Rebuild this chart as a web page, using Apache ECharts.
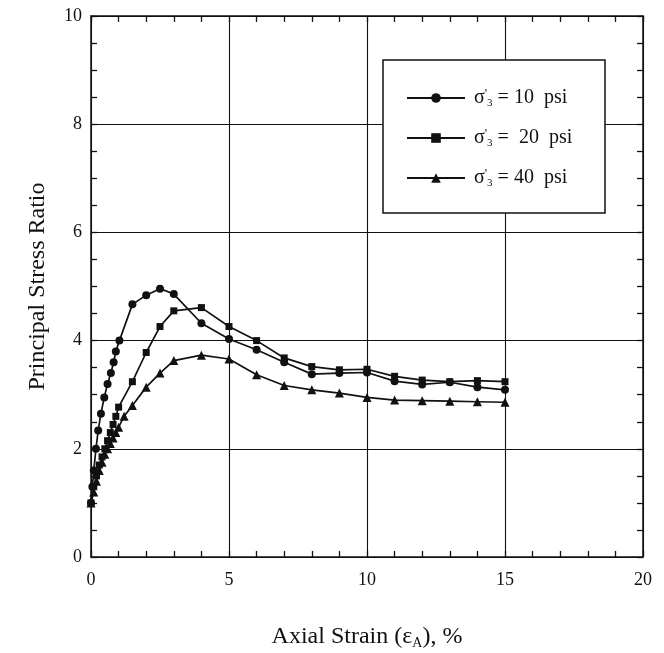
<!DOCTYPE html>
<html>
<head>
<meta charset="utf-8">
<script src="https://cdn.jsdelivr.net/npm/echarts@6/dist/echarts.min.js"></script>
<style>
  html, body { margin: 0; padding: 0; background: #fff; }
  #chart { width: 664px; height: 653px; }
</style>
</head>
<body>
<div id="chart"></div>
<script>
// Principal stress ratio vs axial strain for three confining pressures
const seriesNames = ["σ'3 = 10 psi", "σ'3 = 20 psi", "σ'3 = 40 psi"];
const legendText = [' = 10  psi', ' =  20  psi', ' = 40  psi'];

// [axial strain %, principal stress ratio]
const psi10 = [
  [0, 1.0], [0.05, 1.3], [0.1, 1.6], [0.18, 2.0], [0.26, 2.34], [0.36, 2.65],
  [0.48, 2.95], [0.6, 3.2], [0.72, 3.4], [0.82, 3.6], [0.9, 3.8], [1.03, 4.0],
  [1.5, 4.67], [2.0, 4.84], [2.5, 4.96], [3.0, 4.86], [4.0, 4.32], [5.0, 4.03],
  [6.0, 3.83], [7.0, 3.6], [8.0, 3.38], [9.0, 3.4], [10.0, 3.41], [11.0, 3.25],
  [12.0, 3.19], [13.0, 3.23], [14.0, 3.14], [15.0, 3.09]
];
const psi20 = [
  [0, 1.0], [0.1, 1.3], [0.2, 1.5], [0.3, 1.7], [0.4, 1.85], [0.5, 2.0],
  [0.6, 2.15], [0.7, 2.3], [0.8, 2.45], [0.9, 2.6], [1.0, 2.77], [1.5, 3.24],
  [2.0, 3.78], [2.5, 4.26], [3.0, 4.55], [4.0, 4.61], [5.0, 4.26], [6.0, 4.0],
  [7.0, 3.68], [8.0, 3.52], [9.0, 3.46], [10.0, 3.47], [11.0, 3.34], [12.0, 3.27],
  [13.0, 3.24], [14.0, 3.26], [15.0, 3.24]
];
const psi40 = [
  [0, 1.0], [0.1, 1.2], [0.2, 1.4], [0.3, 1.6], [0.4, 1.75], [0.5, 1.9],
  [0.6, 2.0], [0.7, 2.1], [0.8, 2.2], [0.9, 2.3], [1.0, 2.4], [1.2, 2.6],
  [1.5, 2.8], [2.0, 3.14], [2.5, 3.4], [3.0, 3.63], [4.0, 3.73], [5.0, 3.66],
  [6.0, 3.37], [7.0, 3.17], [8.0, 3.09], [9.0, 3.03], [10.0, 2.95], [11.0, 2.9],
  [12.0, 2.89], [13.0, 2.88], [14.0, 2.87], [15.0, 2.86]
];

const FONT = "'Liberation Serif', 'DejaVu Serif', serif";
const INK = '#111';

const chart = echarts.init(document.getElementById('chart'));

function axisCommon(extra) {
  return Object.assign({
    type: 'value',
    axisLine: { show: true, onZero: false, lineStyle: { color: INK, width: 1.5 } },
    axisTick: { show: true, inside: true, length: 6, lineStyle: { color: INK, width: 1.3 } },
    minorTick: { show: true, length: 6, lineStyle: { color: INK, width: 1.3 } },
    splitLine: { show: false },
    minorSplitLine: { show: false }
  }, extra);
}

const tickLabel = { color: INK, fontFamily: FONT, fontSize: 18 };

function mkSeries(name, data, symbol, size) {
  return {
    name: name,
    type: 'line',
    data: data,
    symbol: symbol,
    symbolSize: size,
    showSymbol: true,
    lineStyle: { color: INK, width: 1.7 },
    itemStyle: { color: INK },
    emphasis: { disabled: true },
    animation: false,
    z: 5
  };
}

chart.setOption({
  backgroundColor: '#fff',
  animation: false,
  grid: { left: 91, right: 21, top: 16, bottom: 96, containLabel: false, outerBoundsMode: 'none' },
  xAxis: [
    axisCommon({
      min: 0, max: 20, interval: 5, position: 'bottom',
      minorTick: { show: true, splitNumber: 5, length: 6, lineStyle: { color: INK, width: 1.3 } },
      splitLine: { show: true, lineStyle: { color: INK, width: 1.1 } },
      axisLabel: Object.assign({ margin: 14 }, tickLabel),
      name: 'Axial Strain ({e|ε}{sub|A}), %',
      nameLocation: 'middle',
      nameGap: 67,
      nameTextStyle: {
        color: INK, fontFamily: FONT, fontSize: 24,
        rich: {
          e: { fontFamily: FONT, fontSize: 24, color: INK },
          sub: { fontFamily: FONT, fontSize: 14, color: INK, verticalAlign: 'bottom', padding: [12, 0, 0, 0] }
        }
      }
    }),
    axisCommon({
      min: 0, max: 20, interval: 5, position: 'top',
      minorTick: { show: true, splitNumber: 5, length: 6, lineStyle: { color: INK, width: 1.3 } },
      axisLabel: { show: false }
    })
  ],
  yAxis: [
    axisCommon({
      min: 0, max: 10, interval: 2, position: 'left',
      minorTick: { show: true, splitNumber: 4, length: 6, lineStyle: { color: INK, width: 1.3 } },
      splitLine: { show: true, lineStyle: { color: INK, width: 1.1 } },
      axisLabel: Object.assign({ margin: 9 }, tickLabel),
      name: 'Principal Stress Ratio',
      nameLocation: 'middle',
      nameGap: 41,
      nameTextStyle: { color: INK, fontFamily: FONT, fontSize: 24 }
    }),
    axisCommon({
      min: 0, max: 10, interval: 2, position: 'right',
      minorTick: { show: true, splitNumber: 4, length: 6, lineStyle: { color: INK, width: 1.3 } },
      axisLabel: { show: false }
    })
  ],
  legend: {
    orient: 'vertical',
    left: 401,
    top: 82,
    z: 20,
    itemWidth: 58,
    itemHeight: 12,
    itemGap: 18,
    data: seriesNames,
    formatter: function (name) {
      const i = seriesNames.indexOf(name);
      return '{s|σ}{p|\'}{sub|3}{s|' + legendText[i] + '}';
    },
    textStyle: {
      color: INK, fontFamily: FONT, fontSize: 20, padding: [0, 0, 0, 4],
      rich: {
        s: { fontFamily: FONT, fontSize: 20, color: INK },
        p: { fontFamily: FONT, fontSize: 13, color: INK, verticalAlign: 'top' },
        sub: { fontFamily: FONT, fontSize: 11, color: INK, verticalAlign: 'bottom', padding: [11, 0, 0, 0] }
      }
    },
    selectedMode: false
  },
  graphic: [{
    type: 'rect',
    shape: { x: 383, y: 60, width: 222, height: 153 },
    style: { fill: '#fff', stroke: INK, lineWidth: 1.5 },
    z: 10
  }],
  series: [
    mkSeries(seriesNames[0], psi10, 'circle', 8),
    mkSeries(seriesNames[1], psi20, 'rect', 7),
    mkSeries(seriesNames[2], psi40, 'triangle', 9)
  ]
});
</script>
</body>
</html>
